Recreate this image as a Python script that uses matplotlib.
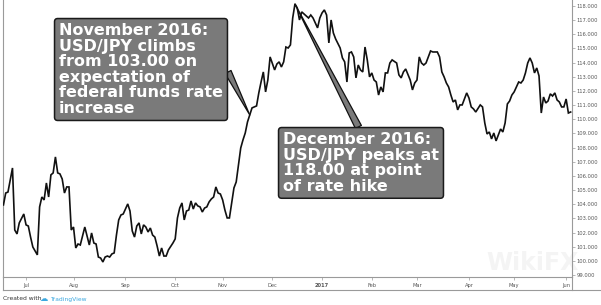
import matplotlib
matplotlib.use("Agg")
import matplotlib.pyplot as plt
from matplotlib.lines import Line2D
import numpy as np
import pandas as pd

# USD/JPY daily close, x = trading days counted from 1 Jul 2016
day = [-10, -9, -8, -6, -5, -4, -3, -1, 0, 1, 2, 3, 5, 6, 7, 8, 9, 10, 11, 12,
       13, 14, 15, 16, 17, 18, 19, 20, 21, 22, 23, 24, 26, 28, 29, 30, 31, 32, 33, 34,
       35, 36, 37, 38, 39, 40, 41, 42, 43, 45, 46, 47, 48, 49, 50, 51, 52, 53, 54, 55,
       56, 57, 58, 59, 60, 61, 62, 63, 65, 66, 67, 68, 69, 70, 71, 72, 73, 74, 75, 76,
       77, 78, 79, 80, 81, 82, 83, 84, 85, 86, 87, 88, 89, 90, 91, 92, 93, 94, 95, 96,
       97, 98, 99, 100, 102, 103, 104, 105, 106, 107, 108, 110, 111, 112, 113, 114, 115, 116, 117, 118,
       119, 120, 121, 122, 123, 124, 125, 126, 127, 129, 130, 131, 132, 133, 134, 135, 136, 137, 139, 140,
       141, 142, 143, 144, 145, 146, 147, 148, 149, 150, 151, 152, 153, 154, 155, 156, 157, 158, 159, 160,
       161, 162, 164, 165, 166, 167, 168, 170, 171, 172, 173, 174, 175, 176, 177, 178, 179, 180, 182, 183,
       184, 185, 186, 187, 188, 189, 190, 191, 192, 193, 195, 196, 197, 198, 199, 201, 202, 203, 204, 205,
       206, 207, 208, 209, 210, 211, 212, 213, 214, 215, 216, 218, 219, 220, 221, 222, 223, 224, 225, 226,
       227, 228, 229, 230, 231, 232, 233, 234, 235, 236, 237, 238, 239, 240, 241]
close = [103.95, 104.79, 104.86, 106.56, 102.18, 101.90, 102.68, 103.31, 102.54, 102.46,
         101.68, 100.98, 100.42, 103.81, 104.51, 104.30, 105.50, 104.51, 106.07, 106.21,
         107.34, 106.21, 106.14, 105.78, 104.79, 105.22, 105.22, 102.18, 102.39, 100.91,
         101.19, 101.12, 102.39, 101.12, 101.97, 101.26, 101.19, 100.27, 100.20, 99.92,
         100.27, 100.34, 100.27, 100.49, 100.56, 101.82, 102.89, 103.24, 103.31, 104.02,
         103.52, 102.11, 101.68, 102.46, 102.68, 101.90, 102.54, 102.39, 102.04, 102.32,
         101.82, 101.68, 101.05, 100.34, 100.91, 100.34, 100.34, 100.77, 101.26, 101.55,
         103.03, 103.73, 104.09, 102.89, 103.52, 103.59, 104.23, 103.66, 104.09, 103.88,
         103.81, 103.45, 103.73, 103.81, 104.16, 104.37, 104.51, 105.22, 104.79, 104.72,
         104.30, 103.59, 103.03, 103.03, 104.09, 105.15, 105.57, 106.77, 107.97, 108.54,
         109.03, 109.81, 110.30, 110.80, 110.94, 111.86, 112.63, 113.34, 111.93, 112.77,
         114.40, 113.48, 113.90, 114.05, 113.69, 114.05, 115.10, 115.03, 115.25, 117.15,
         118.14, 117.86, 117.01, 117.58, 117.44, 117.29, 117.15, 117.36, 117.15, 116.45,
         117.15, 117.51, 117.72, 117.36, 115.39, 117.01, 116.09, 115.67, 115.03, 114.33,
         114.05, 112.63, 114.68, 114.75, 114.40, 112.92, 113.83, 113.48, 113.34, 115.10,
         114.19, 112.99, 113.27, 112.77, 112.63, 111.71, 112.28, 111.93, 113.27, 113.27,
         113.97, 114.19, 113.97, 113.13, 112.92, 113.34, 113.55, 112.77, 112.07, 112.56,
         112.77, 114.40, 113.97, 113.83, 113.97, 114.40, 114.82, 114.75, 114.75, 114.40,
         113.34, 112.99, 112.56, 112.28, 111.71, 111.22, 111.36, 110.66, 111.01, 111.01,
         111.86, 111.50, 110.87, 110.73, 110.51, 111.01, 110.87, 109.74, 108.96, 109.10,
         108.61, 109.03, 108.47, 108.89, 109.31, 109.10, 109.74, 111.08, 111.29, 111.71,
         111.93, 112.63, 112.56, 112.77, 113.27, 113.97, 114.33, 113.97, 113.27, 113.62,
         113.06, 110.44, 111.57, 111.15, 111.29, 111.79, 111.64, 111.86, 111.36, 111.22,
         110.87, 110.87, 111.43, 110.44, 110.51]

month_labels = ["Jul", "Aug", "Sep", "Oct", "Nov", "Dec", "2017", "Feb", "Mar", "Apr", "May", "Jun"]
y_ticks = list(range(99, 119))

note_nov = "November 2016:\nUSD/JPY climbs\nfrom 103.00 on\nexpectation of\nfederal funds rate\nincrease"
note_dec = "December 2016:\nUSD/JPY peaks at\n118.00 at point\nof rate hike"
nov_day = 99

# month ticks placed on the trading-day scale
bdays = pd.bdate_range("2016-07-01", "2017-06-30")
month_starts = pd.date_range("2016-07-01", "2017-06-01", freq="MS")
tick_pos = [bdays.searchsorted(d) for d in month_starts]

W, H = 601, 305
fig = plt.figure(figsize=(W / 100, H / 100), dpi=100)
ax = fig.add_axes([3 / W, 1 - 277 / H, (572 - 3) / W, 277 / H])

ax.plot(day, close, color="#111111", lw=1.2, solid_joinstyle="miter", zorder=3)
ax.set_xlim(-10.2, 241.6)
ax.set_ylim(98.86, 118.42)

grey = "#9a9a9a"
for side in ["left", "bottom", "right"]:
    ax.spines[side].set_color(grey)
    ax.spines[side].set_linewidth(0.8)
ax.spines["top"].set_visible(False)

ax.yaxis.tick_right()
ax.set_yticks(y_ticks)
ax.set_yticklabels([f"{v:.3f}" for v in y_ticks])
ax.set_xticks(tick_pos)
ax.set_xticklabels(month_labels)
ax.tick_params(axis="y", length=2, width=0.5, color=grey, pad=1.5, labelsize=3.7, labelcolor="#555555")
ax.tick_params(axis="x", length=2, width=0.5, color=grey, pad=2.5, labelsize=3.7, labelcolor="#555555")
for lab in ax.get_xticklabels():
    if lab.get_text() == "2017":
        lab.set_fontweight("bold")

# outer frame under the axis strips
def px_line(x0, y0, x1, y1):
    fig.add_artist(Line2D([x0 / W, x1 / W], [1 - y0 / H, 1 - y1 / H], color=grey, lw=0.8))

px_line(3, 290, 601, 290)
px_line(3, 277, 3, 290)
px_line(572, 277, 572, 290)

# faint watermark
ax.text(0.93, 0.05, "WikiFX", transform=ax.transAxes, fontsize=17, fontweight="bold",
        color="#f4f4f4", ha="center", va="center", zorder=0)

box = dict(boxstyle="round,pad=0.28,rounding_size=0.2", fc="#7a7a7a", ec="#1a1a1a", lw=1.1)
text_kw = dict(fontsize=11.5, fontweight="bold", color="white", linespacing=1.05,
               ha="left", va="top", textcoords="figure pixels", zorder=5)

i_nov = day.index(nov_day)
ax.annotate(note_nov, xy=(day[i_nov], close[i_nov]), xytext=(59, H - 23), bbox=box,
            arrowprops=dict(arrowstyle="wedge,tail_width=0.42,shrink_factor=0.5",
                            fc="#7a7a7a", ec="#111111", lw=0.9, relpos=(1, 0.58),
                            shrinkA=0, shrinkB=0),
            **text_kw)

i_peak = int(np.argmax(close))
ax.annotate(note_dec, xy=(day[i_peak], close[i_peak]), xytext=(283, H - 132), bbox=box,
            arrowprops=dict(arrowstyle="wedge,tail_width=0.42,shrink_factor=0.5",
                            fc="#7a7a7a", ec="#111111", lw=0.9, relpos=(0.5, 1),
                            shrinkA=0, shrinkB=0),
            **text_kw)

# credit line
fig.text(3 / W, 1 - 299 / H, "Created with", fontsize=4.3, color="#333333", va="center")
fig.text(40 / W, 1 - 298.5 / H, "\u2601", fontsize=6, color="#3ba8e0", va="center")
fig.text(50 / W, 1 - 299 / H, "TradingView", fontsize=4.3, color="#3ba8e0", va="center")

fig.savefig("out.png", dpi=100)
